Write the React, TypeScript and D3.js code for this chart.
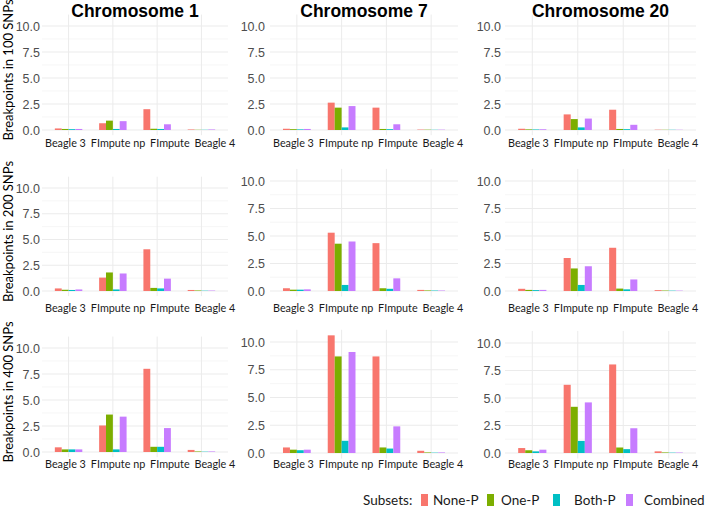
import React from "react";
import * as d3 from "d3";

// ---------- data ----------
const categories = ["Beagle 3", "FImpute np", "FImpute", "Beagle 4"];
const subsets = ["None-P", "One-P", "Both-P", "Combined"];
const subsetColors = ["#F8766D", "#7CAE00", "#00BFC4", "#C77CFF"];
const chromosomes = ["Chromosome 1", "Chromosome 7", "Chromosome 20"];
const snpWindows = ["Breakpoints in 100 SNPs", "Breakpoints in 200 SNPs", "Breakpoints in 400 SNPs"];
const yTicks = [0, 2.5, 5, 7.5, 10];
const yMinorTicks = [1.25, 3.75, 6.25, 8.75];

// each array: rows = subsets (None-P, One-P, Both-P, Combined), columns = categories
const chr1_snp100 = [
  [0.15, 0.65, 2.0, 0.05],
  [0.1, 0.9, 0.12, 0.02],
  [0.08, 0.1, 0.1, 0.02],
  [0.1, 0.85, 0.55, 0.05],
];
const chr7_snp100 = [
  [0.12, 2.63, 2.15, 0.04],
  [0.08, 2.15, 0.1, 0.03],
  [0.06, 0.25, 0.08, 0.02],
  [0.1, 2.3, 0.55, 0.03],
];
const chr20_snp100 = [
  [0.12, 1.5, 1.95, 0.03],
  [0.06, 1.05, 0.1, 0.02],
  [0.05, 0.25, 0.08, 0.02],
  [0.07, 1.1, 0.5, 0.02],
];
const chr1_snp200 = [
  [0.25, 1.3, 4.05, 0.1],
  [0.12, 1.8, 0.3, 0.05],
  [0.1, 0.15, 0.25, 0.03],
  [0.15, 1.7, 1.2, 0.04],
];
const chr7_snp200 = [
  [0.25, 5.3, 4.35, 0.1],
  [0.12, 4.3, 0.25, 0.05],
  [0.12, 0.55, 0.2, 0.04],
  [0.15, 4.5, 1.15, 0.04],
];
const chr20_snp200 = [
  [0.2, 3.0, 3.93, 0.08],
  [0.1, 2.05, 0.22, 0.04],
  [0.08, 0.55, 0.15, 0.03],
  [0.1, 2.25, 1.05, 0.03],
];
const chr1_snp400 = [
  [0.45, 2.55, 8.0, 0.2],
  [0.25, 3.6, 0.5, 0.05],
  [0.25, 0.25, 0.5, 0.03],
  [0.25, 3.4, 2.3, 0.05],
];
const chr7_snp400 = [
  [0.5, 10.6, 8.7, 0.2],
  [0.3, 8.7, 0.5, 0.05],
  [0.25, 1.1, 0.4, 0.03],
  [0.3, 9.1, 2.4, 0.05],
];
const chr20_snp400 = [
  [0.45, 6.2, 8.05, 0.15],
  [0.25, 4.2, 0.5, 0.05],
  [0.15, 1.1, 0.35, 0.03],
  [0.3, 4.6, 2.25, 0.04],
];

const panelData = [
  [chr1_snp100, chr7_snp100, chr20_snp100],
  [chr1_snp200, chr7_snp200, chr20_snp200],
  [chr1_snp400, chr7_snp400, chr20_snp400],
];

// ---------- layout ----------
const W = 709;
const H = 510;
const colX = [
  { left: 42, right: 228, tickRight: 40 },
  { left: 270, right: 458, tickRight: 265 },
  { left: 505, right: 696, tickRight: 501 },
];
// y pixel of value 0 and value 10 for each panel [row][col]
const panelY = [
  [{ y0: 130, y10: 26 }, { y0: 130, y10: 26 }, { y0: 130, y10: 26 }],
  [{ y0: 291, y10: 188 }, { y0: 291, y10: 181 }, { y0: 291, y10: 181 }],
  [{ y0: 452, y10: 348 }, { y0: 453, y10: 342 }, { y0: 453, y10: 343 }],
];
const labelBaseline = [147, 312, 468];
const titleFont = "'Liberation Sans', Arial, sans-serif";
const textFont = "Lato, 'Open Sans', sans-serif";

function Panel({ r, c }: { r: number; c: number }) {
  const { left, right, tickRight } = colX[c];
  const { y0, y10 } = panelY[r][c];
  const data = panelData[r][c];
  const x = d3
    .scaleBand<string>()
    .domain(categories)
    .range([left, right])
    .paddingInner(0.38)
    .paddingOuter(0.29);
  const xs = d3.scaleBand<string>().domain(subsets).range([0, x.bandwidth()]).padding(0);
  const y = d3.scaleLinear().domain([0, 10]).range([y0, y10]);
  const top = y(11.1);
  const bottom = y(-0.5);
  const fmt = d3.format(".1f");
  return (
    <g>
      {yMinorTicks.map((t) => (
        <line key={"mn" + t} x1={left} x2={right} y1={y(t)} y2={y(t)} stroke="#F0F0F0" strokeWidth={0.6} />
      ))}
      {yTicks.map((t) => (
        <line key={"mj" + t} x1={left} x2={right} y1={y(t)} y2={y(t)} stroke="#EBEBEB" strokeWidth={1} />
      ))}
      {categories.map((cat) => (
        <line
          key={"vx" + cat}
          x1={(x(cat) as number) + x.bandwidth() / 2}
          x2={(x(cat) as number) + x.bandwidth() / 2}
          y1={top}
          y2={bottom}
          stroke="#EBEBEB"
          strokeWidth={1}
        />
      ))}
      {subsets.map((s, si) =>
        categories.map((cat, ci) => {
          const v = data[si][ci];
          return (
            <rect
              key={s + cat}
              x={(x(cat) as number) + (xs(s) as number)}
              y={y(v)}
              width={xs.bandwidth()}
              height={y(0) - y(v)}
              fill={subsetColors[si]}
            />
          );
        })
      )}
      {yTicks.map((t) => (
        <text
          key={"yt" + t}
          x={tickRight}
          y={y(t)}
          dy="0.36em"
          textAnchor="end"
          fontFamily={titleFont}
          fontSize={12.5}
          fill="#4D4D4D"
        >
          {fmt(t)}
        </text>
      ))}
      <text
        x={left + 3}
        y={labelBaseline[r]}
        fontFamily={textFont}
        fontSize={10.8}
        fill="#1a1a1a"
      >
        {categories.map((cat, i) => (
          <tspan key={cat} dx={i === 0 ? 0 : 5}>
            {cat}
          </tspan>
        ))}
      </text>
    </g>
  );
}

export default function App() {
  const legendKeys = [421, 487, 553, 626];
  const legendText = [433, 501, 574, 644];
  return (
    <svg
      width={W}
      height={H}
      style={{ position: "absolute", left: 0, top: 0, background: "#fff" }}
      xmlns="http://www.w3.org/2000/svg"
    >
      <rect width={W} height={H} fill="#fff" />
      {chromosomes.map((chr, c) => (
        <text
          key={chr}
          x={(colX[c].left + colX[c].right) / 2}
          y={17}
          textAnchor="middle"
          fontFamily={titleFont}
          fontWeight="bold"
          fontSize={17.5}
          fill="#000"
        >
          {chr}
        </text>
      ))}
      {snpWindows.map((t, r) => {
        const { y0, y10 } = panelY[r][0];
        const cy = (y0 + y10) / 2 - 8;
        return (
          <text
            key={t}
            transform={`translate(13,${cy}) rotate(-90)`}
            textAnchor="middle"
            fontFamily={textFont}
            fontSize={13}
            fill="#000"
          >
            {t}
          </text>
        );
      })}
      {panelData.map((row, r) => row.map((_, c) => <Panel key={r + "-" + c} r={r} c={c} />))}
      <text x={363} y={505} fontFamily={textFont} fontSize={13.5} fill="#1a1a1a">
        Subsets:
      </text>
      {subsets.map((s, i) => (
        <g key={s}>
          <rect x={legendKeys[i]} y={494} width={7} height={12} fill={subsetColors[i]} />
          <text x={legendText[i]} y={505} fontFamily={textFont} fontSize={13.5} fill="#1a1a1a">
            {s}
          </text>
        </g>
      ))}
    </svg>
  );
}
